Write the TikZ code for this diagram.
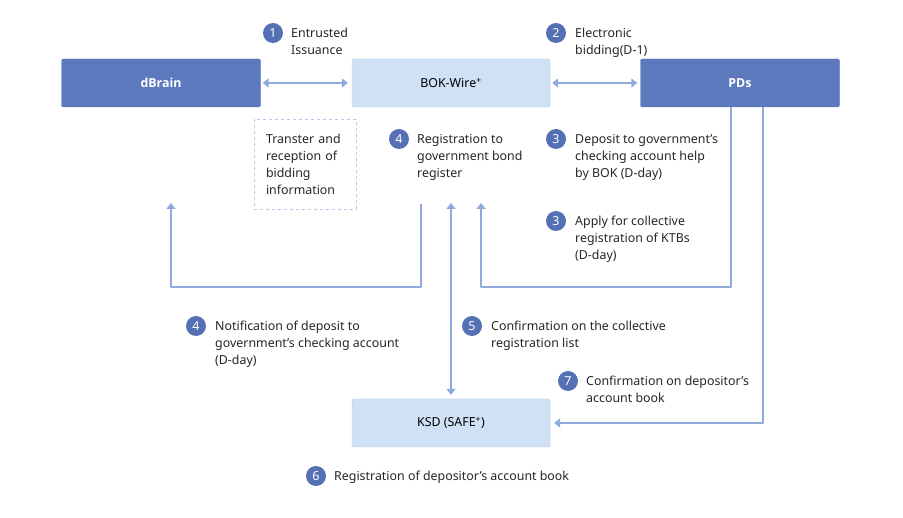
\documentclass[tikz,border=0pt]{standalone}
\usepackage{fontspec}
\setmainfont{Noto Sans}
\newfontfamily\headfont{Open Sans}
\usetikzlibrary{arrows.meta}
\definecolor{darkblue}{HTML}{5B79BC}
\definecolor{lightfill}{HTML}{D0E0F5}
\definecolor{lightline}{HTML}{B5C9E8}
\definecolor{arrowblue}{HTML}{8FAADC}
\definecolor{numblue}{HTML}{5570B4}
\begin{document}
\begin{tikzpicture}[x=1pt,y=-1pt,line join=round,>={Triangle[length=6pt,width=9pt]},
    font=\fontsize{12.4}{17}\selectfont,
    darkbox/.style={fill=darkblue,draw=darkblue,rounded corners=2pt,minimum width=199pt,minimum height=48pt,text=white,font=\fontsize{12.4}{17}\headfont\bfseries},
    lightbox/.style={fill=lightfill,draw=lightline,rounded corners=2pt,minimum width=198pt,minimum height=48pt},
    num/.style={circle,fill=numblue,text=white,minimum size=20pt,inner sep=0pt},
    note/.style={anchor=north west,align=left,inner sep=0pt,text=black!85},
    flow/.style={draw=arrowblue,line width=1.8pt}]
    \useasboundingbox (0,0) rectangle (903,518);
    % boxes
    \node[darkbox] (dbrain) at (161,83) {dBrain};
    \node[lightbox] (bok) at (451,83) {BOK-Wire\textsuperscript{+}};
    \node[darkbox] (pds) at (740,83) {PDs};
    \node[lightbox] (ksd) at (451,423) {KSD (SAFE\textsuperscript{+})};
    \node[draw=lightline,dashed,minimum width=102pt,minimum height=90pt,text width=78pt,align=left,inner sep=0pt,text=black!85] (info) at (305,164)
        {Transter and\\reception of\\bidding\\information};
    % free ends
    \coordinate (la) at (421,204);
    \coordinate (lb) at (171,203);
    \coordinate (mt) at (451,203);
    \coordinate (rb) at (481,203);
    % connectors
    \draw[flow,<->,shorten <=2pt,shorten >=4pt] (dbrain) -- (bok);
    \draw[flow,<->,shorten <=2pt,shorten >=3pt] (bok) -- (pds);
    \draw[flow,->] (la) -- (421,287) -| (lb);
    \draw[flow,<->,shorten >=4pt] (mt) -- (ksd);
    \draw[flow,->] (pds.south -| 731,0) -- (731,287) -| (rb);
    \draw[flow,->,shorten >=4pt] (pds.south -| 763,0) |- (ksd);
    % numbers
    \node[num] (n1) at (273,33) {1};
    \node[num] (n2) at (556,33) {2};
    \node[num] (n4a) at (399,139) {4};
    \node[num] (n3a) at (556,139) {3};
    \node[num] (n3b) at (556,221) {3};
    \node[num] (n4b) at (196,326) {4};
    \node[num] (n5) at (472,326) {5};
    \node[num] (n7) at (568,381) {7};
    \node[num] (n6) at (316,476) {6};
    % labels
    \node[note] (t1) at (291,28) {Entrusted\\Issuance};
    \node[note] (t2) at (575,28) {Electronic\\bidding(D-1)};
    \node[note] (t4a) at (417,134) {Registration to\\government bond\\register};
    \node[note] (t3a) at (575,134) {Deposit to government’s\\checking account help\\by BOK (D-day)};
    \node[note] (t3b) at (575,216) {Apply for collective\\registration of KTBs\\(D-day)};
    \node[note] (t4b) at (215,321) {Notification of deposit to\\government’s checking account\\(D-day)};
    \node[note] (t5) at (491,321) {Confirmation on the collective\\registration list};
    \node[note] (t7) at (586,376) {Confirmation on depositor’s\\account book};
    \node[note] (t6) at (334,471) {Registration of depositor’s account book};
\end{tikzpicture}
\end{document}
